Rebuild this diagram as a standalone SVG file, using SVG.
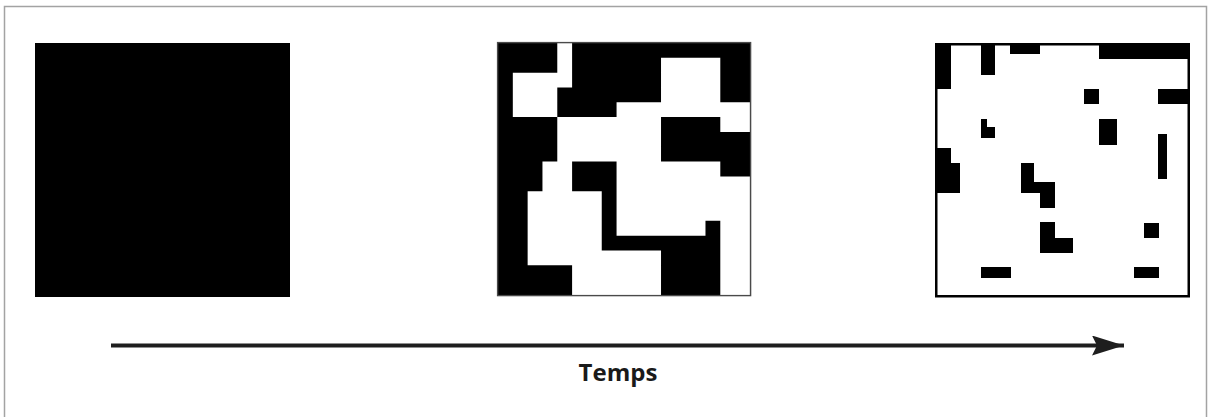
<svg xmlns="http://www.w3.org/2000/svg" width="1209" height="417" viewBox="0 0 1209 417">
  <style>
    .blk { fill: #000; }
    .wht { fill: #fff; }
    .label { font-family: "Open Sans", "Liberation Sans", sans-serif; font-weight: bold; font-size: 24px; fill: #1a1a1a; }
  </style>
  <defs>
    <marker id="head" markerUnits="userSpaceOnUse" markerWidth="40" markerHeight="24" refX="32" refY="10" orient="auto" viewBox="0 0 40 24">
      <path d="M0 0 L32 10 L0 20 L5 10 Z" fill="#1e1e1e"/>
    </marker>
  </defs>
  <rect x="0" y="0" width="1209" height="417" fill="#fff"/>
  <path d="M4.5 417 V6.5 H1206.5 V417" fill="none" stroke="#a3a3a3" stroke-width="1.5"/>

  <g id="state-initial">
    <rect class="blk" x="35" y="43" width="255" height="254"/>
  </g>

  <g id="state-intermediate">
    <rect class="blk" x="498" y="43" width="252" height="252"/>
    <path class="wht" transform="translate(498 43) scale(14.82)" d="M4 0h1v1h-1z M4 1h1v1h-1z M11 1h4v1h-4z M1 2h4v1h-4z M11 2h4v1h-4z M1 3h3v1h-3z M11 3h4v1h-4z M1 4h3v1h-3z M8 4h9v1h-9z M4 5h7v1h-7z M15 5h2v1h-2z M4 6h7v1h-7z M4 7h7v1h-7z M3 8h2v1h-2z M8 8h7v1h-7z M3 9h2v1h-2z M8 9h9v1h-9z M2 10h5v1h-5z M8 10h9v1h-9z M2 11h5v1h-5z M8 11h9v1h-9z M2 12h5v1h-5z M8 12h6v1h-6z M15 12h2v1h-2z M2 13h5v1h-5z M15 13h2v1h-2z M2 14h9v1h-9z M15 14h2v1h-2z M5 15h6v1h-6z M15 15h2v1h-2z M5 16h6v1h-6z M15 16h2v1h-2z"/>
    <rect x="497.6" y="42.6" width="253" height="253" fill="none" stroke="#4a4a4a" stroke-width="1.4"/>
  </g>

  <g id="state-final">
    <rect x="936.25" y="44.25" width="252.5" height="252" fill="#fff" stroke="#000" stroke-width="2.5"/>
    <rect class="blk" x="936" y="44" width="15" height="45"/>
    <rect class="blk" x="981" y="44" width="14" height="31"/>
    <rect class="blk" x="1010" y="44" width="30" height="10"/>
    <rect class="blk" x="1099" y="44" width="90" height="15"/>
    <path class="blk" d="M981 119h6v8h8v11h-14z"/>
    <rect class="blk" x="1084" y="89" width="15" height="15"/>
    <rect class="blk" x="1158" y="89" width="31" height="15"/>
    <rect class="blk" x="1099" y="119" width="18" height="26"/>
    <rect class="blk" x="1158" y="134" width="9" height="45"/>
    <path class="blk" d="M936 148h15v15h9v30h-24z"/>
    <path class="blk" d="M1021 163h13v19h21v26h-15v-15h-19z"/>
    <path class="blk" d="M1040 222h15v16h18v15h-33z"/>
    <rect class="blk" x="1144" y="223" width="15" height="15"/>
    <rect class="blk" x="981" y="267" width="30" height="11"/>
    <rect class="blk" x="1134" y="267" width="25" height="11"/>
  </g>

  <g id="connectors">
    <line x1="111" y1="345.5" x2="1124" y2="345.5" stroke="#1e1e1e" stroke-width="4.2" marker-end="url(#head)"/>
  </g>

  <g id="label-temps">
    <text class="label" x="618" y="381" text-anchor="middle">Temps</text>
  </g>
</svg>
